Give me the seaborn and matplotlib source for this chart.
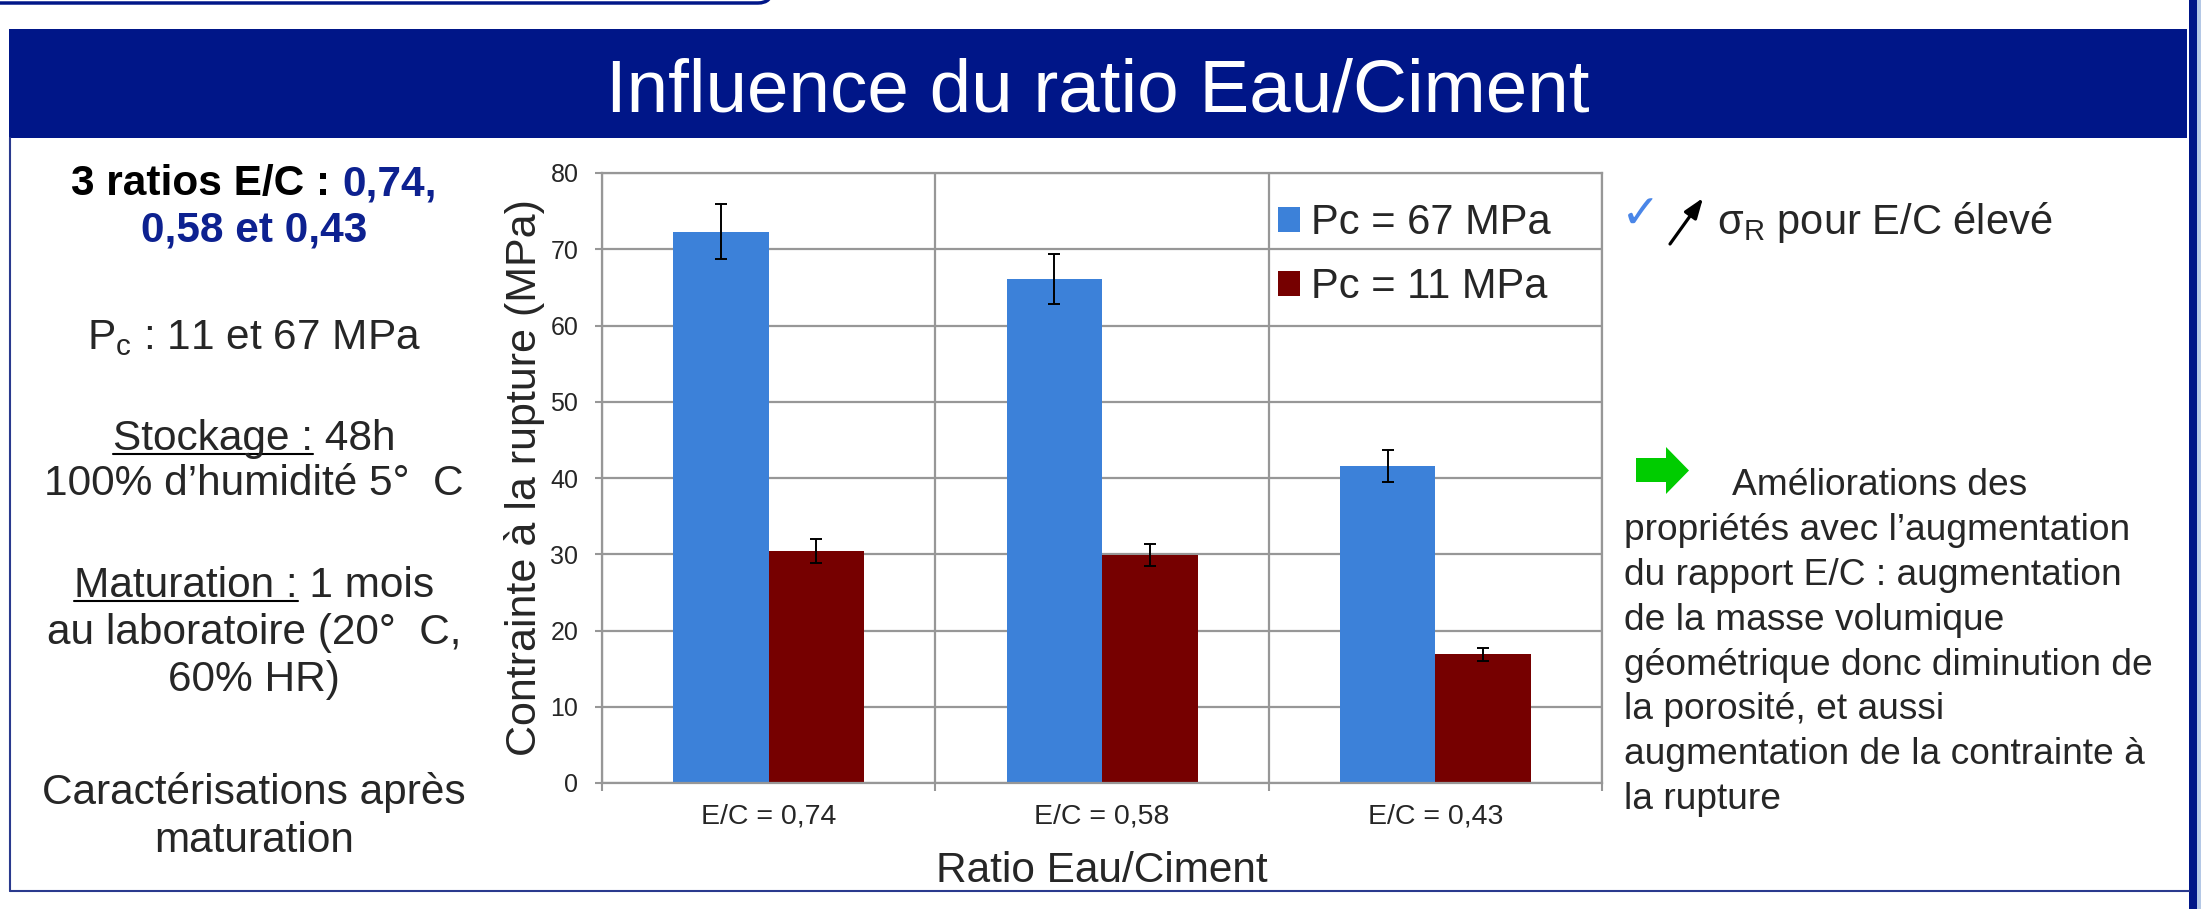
import matplotlib
matplotlib.use('Agg')
import matplotlib.pyplot as plt
import seaborn as sns
import pandas as pd
from matplotlib.patches import Rectangle, FancyBboxPatch, Polygon, FancyArrowPatch
from matplotlib.lines import Line2D
from matplotlib.transforms import IdentityTransform

# Données
categories = ['E/C = 0,74', 'E/C = 0,58', 'E/C = 0,43']
series = ['Pc = 67 MPa', 'Pc = 11 MPa']
values_67 = [72.3, 66.1, 41.6]
errors_67 = [3.6, 3.3, 2.1]
values_11 = [30.4, 29.9, 16.9]
errors_11 = [1.6, 1.5, 0.85]
y_ticks = [0, 10, 20, 30, 40, 50, 60, 70, 80]

W, H = 2201, 909
NAVY = '#001688'
TXT_NAVY = '#0d2190'
BLUE = '#3c81d9'
RED = '#760000'
GRID = '#979797'

sns.set_theme(style='white')
plt.rcParams['font.family'] = ['Liberation Sans', 'DejaVu Sans']
plt.rcParams['mathtext.fontset'] = 'custom'
plt.rcParams['mathtext.rm'] = 'Liberation Sans'
plt.rcParams['mathtext.it'] = 'Liberation Sans:italic'
plt.rcParams['mathtext.bf'] = 'Liberation Sans:bold'

fig = plt.figure(figsize=(W / 100, H / 100), dpi=100)
fig.patch.set_facecolor('white')
PX = IdentityTransform()


def fx(x):
    return x / W


def fy(y):
    return 1 - y / H


# Décor de la diapositive
fig.add_artist(FancyBboxPatch((-60, H - 3), 60 + 772, 120,
                              boxstyle='round,pad=0,rounding_size=14',
                              transform=PX, fc='white', ec=NAVY, lw=2.5))
fig.add_artist(Rectangle((9, H - 138), 2187 - 9, 138 - 29, transform=PX,
                         color=NAVY, lw=0))
fig.add_artist(Rectangle((2189, 0), 8, H, transform=PX, color=NAVY, lw=0))
fig.add_artist(Rectangle((2197, 0), 4, H, transform=PX, color='#b4c8e6', lw=0))
fig.add_artist(Line2D([10, 10], [H - 138, H - 891], transform=PX,
                      color='#2a3a8e', lw=1.5))
fig.add_artist(Line2D([10, 2189], [H - 891, H - 891], transform=PX,
                      color='#2a3a8e', lw=1.5))
fig.text(fx(1098), fy(112), 'Influence du ratio Eau/Ciment', ha='center',
         va='baseline', color='white', fontsize=53.8)

# Graphique
ax = fig.add_axes([602 / W, 1 - 783 / H, 1000 / W, 610 / H])
df = pd.DataFrame({
    'ratio': categories * 2,
    'Pc': [series[0]] * len(categories) + [series[1]] * len(categories),
    'contrainte': values_67 + values_11,
})
sns.barplot(data=df, x='ratio', y='contrainte', hue='Pc', palette=[BLUE, RED],
            width=0.573, errorbar=None, saturation=1, linewidth=0, ax=ax)

for cont, errs in zip(ax.containers, [errors_67, errors_11]):
    xs = [p.get_x() + p.get_width() / 2 for p in cont]
    ys = [p.get_height() for p in cont]
    ax.errorbar(xs, ys, yerr=errs, fmt='none', ecolor='black', elinewidth=1.4,
                capsize=4, capthick=1.4, zorder=3)

ax.set_ylim(0, 80)
ax.set_xlim(-0.5, 2.5)
ax.set_yticks(y_ticks)
ax.set_xticks([-0.5, 0.5, 1.5, 2.5], minor=True)
ax.set_axisbelow(True)
ax.yaxis.grid(True, color=GRID, lw=1.6)
ax.xaxis.grid(True, which='minor', color=GRID, lw=1.6)
ax.xaxis.grid(False, which='major')
for s in ax.spines.values():
    s.set_color(GRID)
    s.set_linewidth(1.6)
ax.tick_params(axis='y', which='major', left=True, length=5, width=1.5,
               color=GRID, direction='out', labelsize=18, pad=12)
ax.tick_params(axis='x', which='major', bottom=True, length=0, labelsize=20.5,
               pad=15)
ax.tick_params(axis='x', which='minor', bottom=True, length=6, width=1.5,
               color=GRID, direction='out')
ax.set_xlabel('Ratio Eau/Ciment', fontsize=30.5)
ax.set_ylabel('Contrainte à la rupture (MPa)', fontsize=31)
ax.xaxis.set_label_coords(0.5, -0.111)
ax.yaxis.set_label_coords(-0.057, 0.5)

handles, labels = ax.get_legend_handles_labels()
ax.legend(handles, labels, loc='upper left', bbox_to_anchor=(1278, H - 203),
          bbox_transform=PX, frameon=False, fontsize=30, handlelength=0.53,
          handleheight=0.53, handletextpad=0.27, labelspacing=0.58,
          borderpad=0, borderaxespad=0)

renderer = fig.canvas.get_renderer()


def width_of(text, size, weight='normal'):
    t = fig.text(0, 0, text, fontsize=size, fontweight=weight)
    w = t.get_window_extent(renderer).width
    t.remove()
    return w


# Texte de gauche
LX = 254
LS = 30.5
full = '3 ratios E/C : 0,74,'
wfull = width_of(full, LS, 'bold')
x0 = LX - wfull / 2
fig.text(fx(x0), fy(195), '3 ratios E/C : ', ha='left', va='baseline',
         fontsize=LS, fontweight='bold', color='black')
fig.text(fx(x0 + wfull), fy(195), '0,74,', ha='right', va='baseline',
         fontsize=LS, fontweight='bold', color=TXT_NAVY)
fig.text(fx(LX), fy(241), '0,58 et 0,43', ha='center', va='baseline',
         fontsize=LS, fontweight='bold', color=TXT_NAVY)
fig.text(fx(LX), fy(349), r'P$_\mathrm{c}$ : 11 et 67 MPa', ha='center',
         va='baseline', fontsize=LS)

for line, prefix, base in [('Stockage : 48h', 'Stockage :', 450),
                           ('Maturation : 1 mois', 'Maturation :', 597)]:
    wl = width_of(line, LS)
    wp = width_of(prefix, LS)
    fig.text(fx(LX), fy(base), line, ha='center', va='baseline', fontsize=LS)
    xl = LX - wl / 2
    fig.add_artist(Line2D([xl, xl + wp], [H - base - 4, H - base - 4],
                          transform=PX, color='black', lw=1.5))

for text, base in [('100% d’humidité 5°  C', 495),
                   ('au laboratoire (20°  C,', 644),
                   ('60% HR)', 691),
                   ('Caractérisations après', 804),
                   ('maturation', 852)]:
    fig.text(fx(LX), fy(base), text, ha='center', va='baseline', fontsize=LS)

# Texte de droite
fig.text(fx(1641), fy(216), '✓', ha='center', va='center', fontsize=34,
         color='#4a86e8', family='DejaVu Sans')
fig.add_artist(FancyArrowPatch((1670, H - 244), (1703, H - 198), transform=PX,
                               arrowstyle='-|>,head_length=0.55,head_width=0.2',
                               mutation_scale=22, lw=2.3,
                               color='black', shrinkA=0, shrinkB=0))
fig.text(fx(1717), fy(222), r'σ$_\mathrm{R}$ pour E/C élevé', ha='left',
         va='center', fontsize=30)

fig.add_artist(Polygon([(1636, H - 458), (1666, H - 458), (1666, H - 447),
                        (1689, H - 470.5), (1666, H - 494), (1666, H - 482),
                        (1636, H - 482)], closed=True, transform=PX,
                       color='#00cc00', lw=0))

RS = 26.7
fig.text(fx(1732), fy(485), 'Améliorations des', ha='left', va='center',
         fontsize=RS)
right_lines = ['propriétés avec l’augmentation',
               'du rapport E/C : augmentation',
               'de la masse volumique',
               'géométrique donc diminution de',
               'la porosité, et aussi',
               'augmentation de la contrainte à',
               'la rupture']
for i, text in enumerate(right_lines):
    fig.text(fx(1624), fy(531 + i * 44.7), text, ha='left', va='center',
             fontsize=RS)

fig.savefig('out.png', dpi=100, facecolor='white')
